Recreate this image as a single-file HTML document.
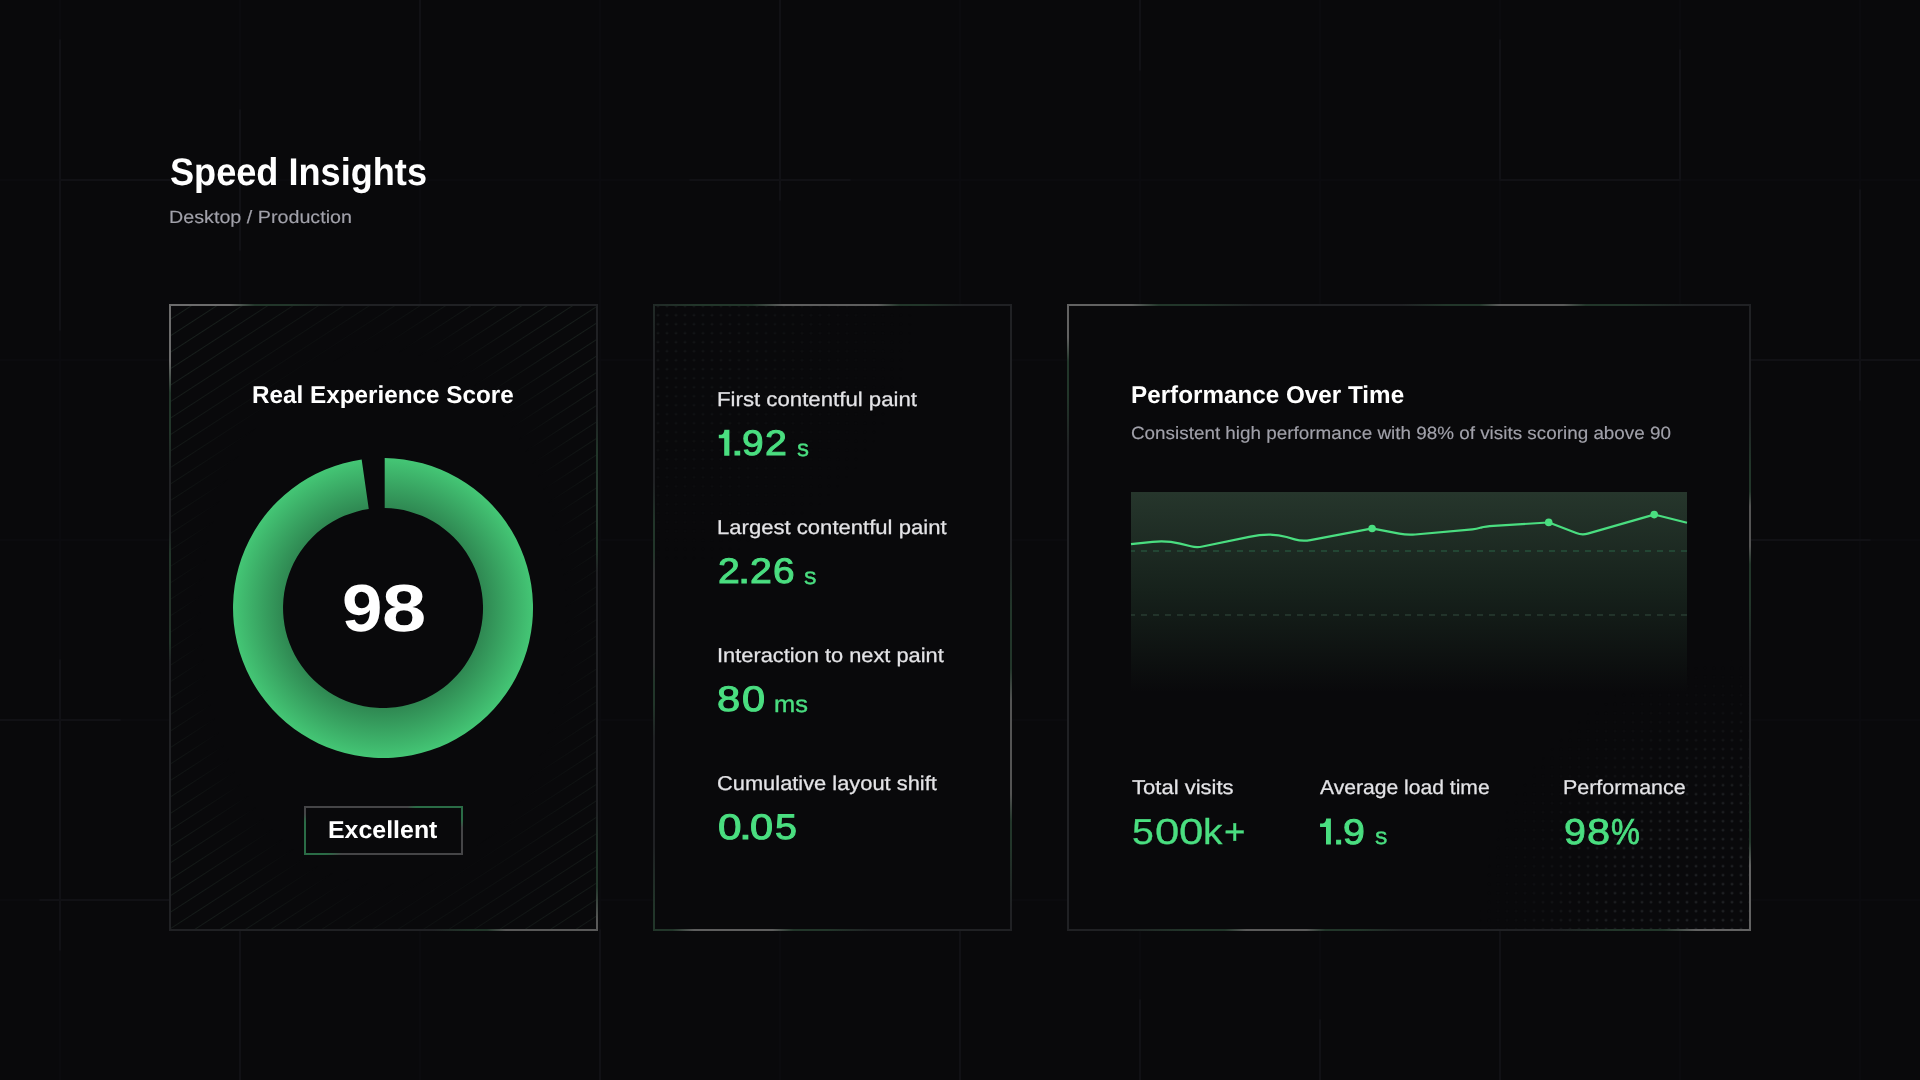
<!DOCTYPE html>
<html lang="en">
<head>
<meta charset="utf-8">
<title>Speed Insights</title>
<style>
*{box-sizing:border-box;margin:0;padding:0}
html,body{width:1920px;height:1080px;overflow:hidden;background:#09090b}
body{position:relative;font-family:"Liberation Sans",sans-serif;-webkit-font-smoothing:antialiased}
.t{text-rendering:geometricPrecision;position:absolute;white-space:nowrap;line-height:1;transform-origin:0 50%;display:block;paint-order:stroke fill}
.grid{position:absolute;left:0;top:0;width:1920px;height:1080px}
.card{position:absolute;top:304px;height:627px;background:#09090b}
.card .bd{position:absolute;inset:0}
.card .in,.badge .in{position:absolute;inset:2px;background:#09090b}
#c1{left:169px;width:429px}
#c2{left:653px;width:359px}
#c3{left:1067px;width:684px}
#c1 .bd{background:conic-gradient(from 46.0deg at 50% 50%,#202124 0.0deg,#22362a 6.1deg,#22362a 9.1deg,#26382e 11.4deg,#26382e 20.6deg,#22362a 22.9deg,#22362a 25.9deg,#202124 32.0deg,#202124 86.0deg,#22362a 92.3deg,#22362a 95.6deg,#585858 98.8deg,#585858 112.6deg,#22362a 115.7deg,#22362a 118.8deg,#202124 125.0deg,#202124 212.0deg,#22362a 217.4deg,#22362a 219.4deg,#243329 222.2deg,#243329 235.8deg,#22362a 238.6deg,#22362a 240.6deg,#202124 246.0deg,#202124 258.0deg,#22362a 265.5deg,#22362a 270.5deg,#6c6c6c 274.2deg,#6c6c6c 287.8deg,#22362a 291.6deg,#22362a 297.1deg,#202124 305.0deg,#202124 360deg)}
#c2 .bd{background:conic-gradient(from -34.0deg at 50% 50%,#202124 0.0deg,#22362a 10.4deg,#22362a 19.6deg,#5e5e5e 25.0deg,#5e5e5e 42.2deg,#22362a 46.1deg,#22362a 50.2deg,#202124 57.0deg,#202124 103.4deg,#22362a 120.8deg,#22362a 140.0deg,#545454 148.9deg,#545454 168.7deg,#22362a 172.8deg,#22362a 176.1deg,#202124 182.4deg,#202124 206.7deg,#22362a 215.0deg,#22362a 221.1deg,#5e5e5e 224.9deg,#5e5e5e 237.9deg,#22362a 241.1deg,#22362a 245.2deg,#202124 252.0deg,#202124 270.0deg,#22362a 278.0deg,#22362a 283.7deg,#303032 289.8deg,#303032 317.9deg,#22362a 324.5deg,#22362a 332.0deg,#202124 341.2deg,#202124 360deg)}
#c3 .bd{background:conic-gradient(from -1.3deg at 50% 50%,#202124 0.0deg,#22362a 8.1deg,#22362a 14.0deg,#5a5a5a 17.4deg,#5a5a5a 27.6deg,#22362a 30.8deg,#22362a 36.1deg,#202124 43.8deg,#202124 60.5deg,#22362a 67.2deg,#22362a 71.0deg,#545454 73.2deg,#545454 79.5deg,#22362a 82.4deg,#22362a 88.9deg,#202124 97.4deg,#202124 115.8deg,#22362a 121.8deg,#22362a 124.6deg,#626262 127.3deg,#626262 138.7deg,#22362a 142.2deg,#22362a 148.0deg,#202124 156.0deg,#202124 182.4deg,#22362a 190.5deg,#22362a 196.3deg,#5a5a5a 199.5deg,#5a5a5a 208.8deg,#22362a 211.8deg,#22362a 216.8deg,#202124 224.3deg,#202124 297.9deg,#22362a 304.5deg,#22362a 308.2deg,#626262 310.7deg,#626262 319.7deg,#22362a 322.6deg,#22362a 327.5deg,#202124 334.9deg,#202124 360deg)}
svg{position:absolute;left:0;top:0;overflow:visible}
.badge{position:absolute;left:304px;top:806px;width:159px;height:49px;background:#09090b}
.badge .bd{position:absolute;inset:0;background:conic-gradient(from 0deg at 50% 50%,#454547 0deg,#454547 46deg,#2a6c46 54deg,#2a6c46 82deg,#454547 88deg,#454547 241deg,#2a6c46 248deg,#2a6c46 276deg,#454547 282deg,#454547 360deg);}
</style>
</head>
<body>
<!-- faint background grid -->
<svg class="grid" width="1920" height="1080" viewBox="0 0 1920 1080">
  <g stroke="#0d0d10" stroke-width="1.5">
    <path d="M60 0V1080M240 0V1080M420 0V1080M600 0V1080M780 0V1080M960 0V1080M1140 0V1080M1320 0V1080M1500 0V1080M1680 0V1080M1860 0V1080"/>
    <path d="M0 180H1920M0 360H1920M0 540H1920M0 720H1920M0 900H1920"/>
  </g>
  <g stroke="#111115" stroke-width="2" stroke-linecap="round">
    <path d="M60 40V330M240 110V250M420 0V140M780 0V200M1140 0V70M1500 40V180M1680 50V180M1860 190V400M60 660V950M240 930V1080M600 930V1080M960 930V1080M1500 930V1080M1140 1000V1080M1320 1020V1080"/>
    <path d="M60 180H170M690 180H850M1500 180H1680M1750 360H1920M1750 540H1870M0 720H120M40 900H170"/>
  </g>
</svg>

<div class="card" id="c1"><div class="bd"></div><div class="in"></div></div>
<div class="card" id="c2"><div class="bd"></div><div class="in"></div></div>
<div class="card" id="c3"><div class="bd"></div><div class="in"></div></div>

<!-- card decorations + charts -->
<svg width="1920" height="1080" viewBox="0 0 1920 1080">
  <defs>
    <pattern id="hatch" width="40" height="13.82" patternUnits="userSpaceOnUse" patternTransform="translate(171.1 318.3) rotate(-32.95)">
      <line x1="0" y1="0" x2="40" y2="0" stroke="#27352e" stroke-width="1.2"/>
    </pattern>
    <radialGradient id="hm" cx="383.5" cy="617.5" r="1" gradientUnits="userSpaceOnUse" gradientTransform="translate(383.5 617.5) scale(302.6 442.6) translate(-383.5 -617.5)">
      <stop offset="0" stop-color="#000"/>
      <stop offset="0.6" stop-color="#000"/>
      <stop offset="0.74" stop-color="#999"/>
      <stop offset="0.88" stop-color="#fff"/>
    </radialGradient>
    <linearGradient id="hl" x1="171" y1="306" x2="596" y2="929" gradientUnits="userSpaceOnUse">
      <stop offset="0" stop-color="#000" stop-opacity="0"/>
      <stop offset="0.35" stop-color="#000" stop-opacity="0.1"/>
      <stop offset="1" stop-color="#000" stop-opacity="0.3"/>
    </linearGradient>
    <mask id="hmask" maskUnits="userSpaceOnUse" x="171" y="306" width="425" height="623">
      <rect x="171" y="306" width="425" height="623" fill="url(#hm)"/>
      <rect x="171" y="306" width="425" height="623" fill="url(#hl)"/>
    </mask>
    <pattern id="dots2" width="9" height="9" patternUnits="userSpaceOnUse" patternTransform="translate(653.5 301.7)">
      <circle cx="4.5" cy="4.5" r="1.1" fill="#1c1f20"/>
    </pattern>
    <radialGradient id="dm2" cx="655" cy="306" r="260" gradientUnits="userSpaceOnUse">
      <stop offset="0" stop-color="#fff"/>
      <stop offset="0.45" stop-color="#999"/>
      <stop offset="1" stop-color="#000"/>
    </radialGradient>
    <mask id="dmask2" maskUnits="userSpaceOnUse" x="655" y="306" width="355" height="623">
      <rect x="655" y="306" width="355" height="623" fill="url(#dm2)"/>
    </mask>
    <pattern id="dots3" width="9" height="9" patternUnits="userSpaceOnUse" patternTransform="translate(1655.5 834.7)">
      <circle cx="4.5" cy="4.5" r="1.15" fill="#2a2d30"/>
    </pattern>
    <radialGradient id="dm3" cx="1749" cy="929" r="270" gradientUnits="userSpaceOnUse">
      <stop offset="0" stop-color="#fff"/>
      <stop offset="0.5" stop-color="#ddd"/>
      <stop offset="0.8" stop-color="#444"/>
      <stop offset="1" stop-color="#000"/>
    </radialGradient>
    <mask id="dmask3" maskUnits="userSpaceOnUse" x="1069" y="306" width="680" height="623">
      <rect x="1069" y="306" width="680" height="623" fill="url(#dm3)"/>
    </mask>
    <radialGradient id="dg" cx="383" cy="608" r="150" gradientUnits="userSpaceOnUse">
      <stop offset="0.667" stop-color="#2f8852"/>
      <stop offset="1" stop-color="#44c675"/>
    </radialGradient>
    <linearGradient id="ag" x1="0" y1="492" x2="0" y2="692" gradientUnits="userSpaceOnUse">
      <stop offset="0" stop-color="#26362c"/>
      <stop offset="0.5" stop-color="#16211b"/>
      <stop offset="1" stop-color="#09090b"/>
    </linearGradient>
  </defs>
  <rect x="171" y="306" width="425" height="623" fill="url(#hatch)" mask="url(#hmask)"/>
  <rect x="655" y="306" width="355" height="623" fill="url(#dots2)" mask="url(#dmask2)"/>
  <rect x="1069" y="306" width="680" height="623" fill="url(#dots3)" mask="url(#dmask3)"/>
  <!-- donut -->
  <path d="M384.7 458.01A150 150 0 1 1 361.66 459.53L368.77 509.02A100 100 0 1 0 384.7 508.01Z" fill="url(#dg)"/>
  <!-- area chart -->
  <rect x="1131" y="492" width="556" height="200" fill="url(#ag)"/>
  <g stroke-dasharray="6 6" stroke-dashoffset="2">
    <line x1="1131" y1="551" x2="1687" y2="551" stroke="#2a6446" stroke-width="1.1"/>
    <line x1="1131" y1="615" x2="1687" y2="615" stroke="#283c32" stroke-width="1.6"/>
  </g>
  <path d="M1131 544.2L1152.6 541.8Q1166.5 540.2 1180.1 543.6L1190.8 546.2Q1196.6 547.7 1202.5 546.5L1249.2 536.8Q1270.7 532.4 1286.6 537.0L1294.7 539.4Q1302.4 541.6 1310.3 540.1L1371.1 528.7Q1372.1 528.5 1373.1 528.7L1399.3 533.7Q1407.2 535.2 1415.2 534.5L1472.4 529.3Q1476.4 528.9 1480.3 527.8L1481.0 527.6Q1485.5 526.4 1493.5 525.9L1547.7 522.5Q1548.7 522.4 1549.6 522.8L1576.3 533.0Q1581.9 535.2 1587.7 533.6L1653.2 514.9Q1654.2 514.6 1655.2 514.8L1687 522.8" fill="none" stroke="#4ade80" stroke-width="2.2" stroke-linejoin="round"/>
  <g fill="#4ade80"><circle cx="1372.1" cy="528.5" r="3.8"/><circle cx="1548.7" cy="522.4" r="3.8"/><circle cx="1654.2" cy="514.6" r="3.8"/></g>
<g id="ones" fill="#4ade80"><path d="M718.80 434.80L721.23 434.65Q724.00 434.20 724.40 429.80L729.40 429.80L729.40 455.70L724.20 455.70L724.20 438.20L718.80 438.20Z"/><path d="M1320.04 823.60L1322.72 823.45Q1325.80 823.00 1326.20 818.60L1330.90 818.60L1330.90 844.60L1326.00 844.60L1326.00 827.00L1320.04 827.00Z"/></g>
</svg>

<div class="badge"><div class="bd"></div><div class="in"></div></div>

<span id="t1" class="t" style="left:169.70px;top:154.16px;font-size:38.5px;font-weight:700;color:#fff;transform:scaleX(0.9385);">Speed Insights</span>
<span id="t2" class="t" style="left:168.92px;top:208.83px;font-size:17.8px;font-weight:400;color:#a1a1aa;transform:scaleX(1.1087);-webkit-text-stroke:0.15px #a1a1aa;">Desktop / Production</span>
<span id="t3" class="t" style="left:252.10px;top:383.96px;font-size:24.5px;font-weight:700;color:#fff;transform:scaleX(0.9905);">Real Experience Score</span>
<span id="t4a" class="t" style="left:342.07px;top:576.40px;font-size:66.5px;font-weight:700;color:#fff;transform:scaleX(1.0942);">9</span>
<span id="t4b" class="t" style="left:381.63px;top:576.40px;font-size:66.5px;font-weight:700;color:#fff;transform:scaleX(1.1954);">8</span>
<span id="t5" class="t" style="left:327.62px;top:819.36px;font-size:24.5px;font-weight:700;color:#fff;transform:scaleX(1.0170);">Excellent</span>
<span id="t6" class="t" style="left:717.39px;top:390.31px;font-size:20px;font-weight:400;color:#e4e4e7;transform:scaleX(1.1108);-webkit-text-stroke:0.25px #e4e4e7;">First contentful paint</span>
<span id="t7b" class="t" style="left:731.23px;top:426.28px;font-size:35.5px;font-weight:400;color:#4ade80;transform:scaleX(1.2877);-webkit-text-stroke:1.0px #4ade80;">.</span>
<span id="t7c" class="t" style="left:741.67px;top:426.17px;font-size:35.5px;font-weight:400;color:#4ade80;transform:scaleX(1.0966);-webkit-text-stroke:1.0px #4ade80;">9</span>
<span id="t7d" class="t" style="left:764.79px;top:426.20px;font-size:35.5px;font-weight:400;color:#4ade80;transform:scaleX(1.1082);-webkit-text-stroke:1.0px #4ade80;">2</span>
<span id="t7s" class="t" style="left:797.03px;top:436.92px;font-size:23.5px;font-weight:400;color:#4ade80;transform:scaleX(1.0196);-webkit-text-stroke:0.4px #4ade80;">s</span>
<span id="t8" class="t" style="left:716.51px;top:518.28px;font-size:20px;font-weight:400;color:#e4e4e7;transform:scaleX(1.1040);-webkit-text-stroke:0.25px #e4e4e7;">Largest contentful paint</span>
<span id="t9a" class="t" style="left:717.90px;top:554.20px;font-size:35.5px;font-weight:400;color:#4ade80;transform:scaleX(1.1027);-webkit-text-stroke:1.0px #4ade80;">2</span>
<span id="t9b" class="t" style="left:737.73px;top:554.28px;font-size:35.5px;font-weight:400;color:#4ade80;transform:scaleX(1.2381);-webkit-text-stroke:1.0px #4ade80;">.</span>
<span id="t9c" class="t" style="left:749.68px;top:554.20px;font-size:35.5px;font-weight:400;color:#4ade80;transform:scaleX(1.1054);-webkit-text-stroke:1.0px #4ade80;">2</span>
<span id="t9d" class="t" style="left:773.48px;top:554.16px;font-size:35.5px;font-weight:400;color:#4ade80;transform:scaleX(1.0947);-webkit-text-stroke:1.0px #4ade80;">6</span>
<span id="t9s" class="t" style="left:803.68px;top:564.96px;font-size:23.5px;font-weight:400;color:#4ade80;transform:scaleX(1.0609);-webkit-text-stroke:0.4px #4ade80;">s</span>
<span id="t10" class="t" style="left:716.90px;top:646.28px;font-size:20px;font-weight:400;color:#e4e4e7;transform:scaleX(1.0908);-webkit-text-stroke:0.25px #e4e4e7;">Interaction to next paint</span>
<span id="t11a" class="t" style="left:716.99px;top:682.28px;font-size:35.5px;font-weight:400;color:#4ade80;transform:scaleX(1.1761);-webkit-text-stroke:1.0px #4ade80;">8</span>
<span id="t11b" class="t" style="left:741.59px;top:682.28px;font-size:35.5px;font-weight:400;color:#4ade80;transform:scaleX(1.1694);-webkit-text-stroke:1.0px #4ade80;">0</span>
<span id="t11s" class="t" style="left:773.78px;top:692.96px;font-size:23.5px;font-weight:400;color:#4ade80;transform:scaleX(1.0816);-webkit-text-stroke:0.4px #4ade80;">ms</span>
<span id="t12" class="t" style="left:716.76px;top:774.28px;font-size:20px;font-weight:400;color:#e4e4e7;transform:scaleX(1.0923);-webkit-text-stroke:0.25px #e4e4e7;">Cumulative layout shift</span>
<span id="t13a" class="t" style="left:717.53px;top:810.28px;font-size:35.5px;font-weight:400;color:#4ade80;transform:scaleX(1.1891);-webkit-text-stroke:1.0px #4ade80;">0</span>
<span id="t13b" class="t" style="left:738.55px;top:810.20px;font-size:35.5px;font-weight:400;color:#4ade80;transform:scaleX(1.3069);-webkit-text-stroke:1.0px #4ade80;">.</span>
<span id="t13c" class="t" style="left:749.70px;top:810.28px;font-size:35.5px;font-weight:400;color:#4ade80;transform:scaleX(1.1693);-webkit-text-stroke:1.0px #4ade80;">0</span>
<span id="t13d" class="t" style="left:775.25px;top:810.20px;font-size:35.5px;font-weight:400;color:#4ade80;transform:scaleX(1.1129);-webkit-text-stroke:1.0px #4ade80;">5</span>
<span id="t14" class="t" style="left:1131.22px;top:383.96px;font-size:24.5px;font-weight:700;color:#fff;transform:scaleX(0.9896);">Performance Over Time</span>
<span id="t15" class="t" style="left:1131.35px;top:425.40px;font-size:17.8px;font-weight:400;color:#a1a1aa;transform:scaleX(1.0609);-webkit-text-stroke:0.15px #a1a1aa;">Consistent high performance with 98% of visits scoring above 90</span>
<span id="t16" class="t" style="left:1132.26px;top:777.88px;font-size:20px;font-weight:400;color:#e4e4e7;transform:scaleX(1.1012);-webkit-text-stroke:0.25px #e4e4e7;">Total visits</span>
<span id="t17a" class="t" style="left:1131.76px;top:814.28px;font-size:36px;font-weight:400;color:#4ade80;transform:scaleX(1.0891);-webkit-text-stroke:0.3px #4ade80;">5</span>
<span id="t17b" class="t" style="left:1154.51px;top:814.28px;font-size:36px;font-weight:400;color:#4ade80;transform:scaleX(1.2139);-webkit-text-stroke:0.3px #4ade80;">0</span>
<span id="t17c" class="t" style="left:1179.38px;top:814.28px;font-size:36px;font-weight:400;color:#4ade80;transform:scaleX(1.2145);-webkit-text-stroke:0.3px #4ade80;">0</span>
<span id="t17d" class="t" style="left:1203.19px;top:814.20px;font-size:36px;font-weight:400;color:#4ade80;transform:scaleX(1.0785);-webkit-text-stroke:0.3px #4ade80;">k</span>
<span id="t17e" class="t" style="left:1223.83px;top:814.20px;font-size:36px;font-weight:400;color:#4ade80;transform:scaleX(1.0204);-webkit-text-stroke:0.3px #4ade80;">+</span>
<span id="t18" class="t" style="left:1319.94px;top:777.88px;font-size:20px;font-weight:400;color:#e4e4e7;transform:scaleX(1.0549);-webkit-text-stroke:0.25px #e4e4e7;">Average load time</span>
<span id="t19b" class="t" style="left:1332.95px;top:814.62px;font-size:35.5px;font-weight:400;color:#4ade80;transform:scaleX(1.1408);-webkit-text-stroke:1.0px #4ade80;">.</span>
<span id="t19c" class="t" style="left:1342.58px;top:814.60px;font-size:35.5px;font-weight:400;color:#4ade80;transform:scaleX(1.1070);-webkit-text-stroke:1.0px #4ade80;">9</span>
<span id="t19s" class="t" style="left:1374.58px;top:824.96px;font-size:23.5px;font-weight:400;color:#4ade80;transform:scaleX(1.0540);-webkit-text-stroke:0.4px #4ade80;">s</span>
<span id="t20" class="t" style="left:1563.45px;top:777.85px;font-size:20px;font-weight:400;color:#e4e4e7;transform:scaleX(1.0712);-webkit-text-stroke:0.25px #e4e4e7;">Performance</span>
<span id="t21a" class="t" style="left:1563.51px;top:814.44px;font-size:36px;font-weight:400;color:#4ade80;transform:scaleX(1.0934);-webkit-text-stroke:0.8px #4ade80;">9</span>
<span id="t21b" class="t" style="left:1586.67px;top:814.32px;font-size:36px;font-weight:400;color:#4ade80;transform:scaleX(1.1562);-webkit-text-stroke:0.8px #4ade80;">8</span>
<span id="t21c" class="t" style="left:1610.66px;top:814.30px;font-size:36px;font-weight:400;color:#4ade80;transform:scaleX(0.9016);-webkit-text-stroke:0.8px #4ade80;">%</span>
</body>
</html>
